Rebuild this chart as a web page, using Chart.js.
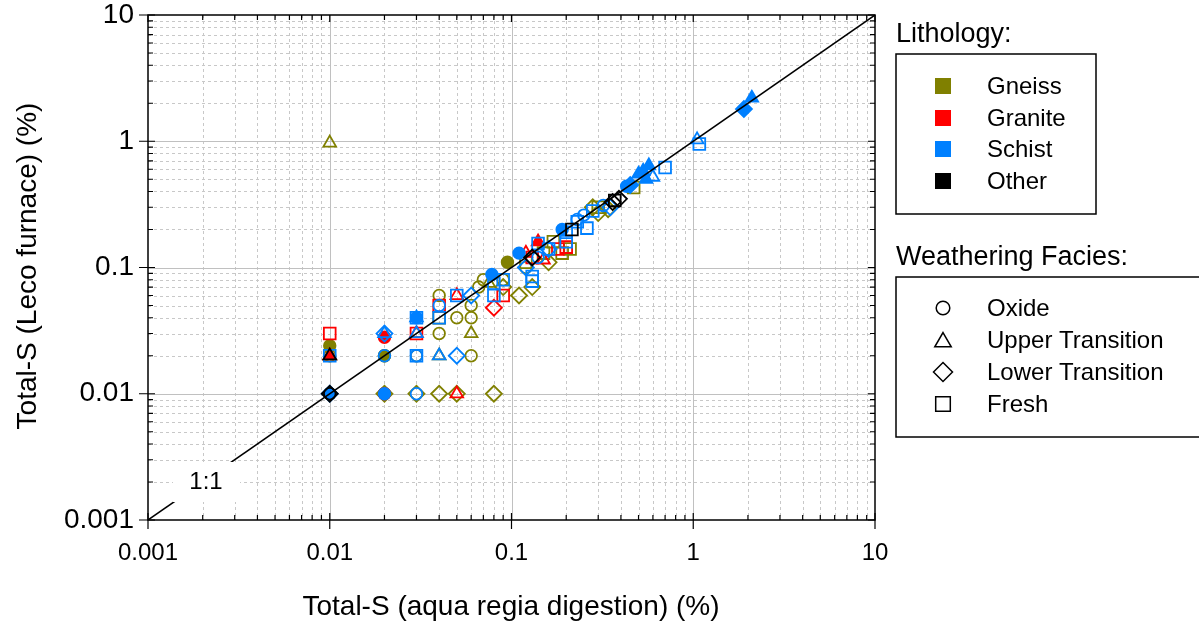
<!DOCTYPE html>
<html>
<head>
<meta charset="utf-8">
<script src="https://cdn.jsdelivr.net/npm/chart.js@4.4.0/dist/chart.umd.min.js"></script>
<style>
  html, body { margin: 0; padding: 0; background: #fff; }
  canvas { display: block; }
</style>
</head>
<body>
<canvas id="chart" width="1199" height="628"></canvas>
<script>
// Total-S: aqua regia digestion vs Leco furnace, log-log

const tickValues = [0.001, 0.01, 0.1, 1, 10];
const tickLabels = ['0.001', '0.01', '0.1', '1', '10'];
const oneToOne = [0.001, 10];

const lithologies = ['Gneiss', 'Granite', 'Schist', 'Other'];
const facies = ['Oxide', 'Upper Transition', 'Lower Transition', 'Fresh'];

// [aqua regia %, leco %]
const gneissOxide = [[0.02, 0.02], [0.03, 0.02], [0.04, 0.06], [0.04, 0.03], [0.05, 0.04], [0.06, 0.05],
  [0.06, 0.04], [0.06, 0.02], [0.07, 0.08], [0.066, 0.07], [0.01, 0.02], [0.02, 0.01], [0.12, 0.1], [0.09, 0.08]];
const gneissOxideFilled = [[0.01, 0.024], [0.02, 0.02], [0.095, 0.11]];
const gneissUpper = [[0.01, 0.97], [0.04, 0.02], [0.06, 0.03], [0.01, 0.02], [0.075, 0.075]];
const gneissLower = [[0.03, 0.01], [0.04, 0.01], [0.08, 0.01], [0.11, 0.06], [0.13, 0.07], [0.16, 0.11],
  [0.28, 0.3], [0.3, 0.27], [0.34, 0.29], [0.02, 0.01], [0.05, 0.01], [0.09, 0.07]];
const gneissFresh = [[0.04, 0.04], [0.17, 0.16], [0.21, 0.14], [0.19, 0.13], [0.47, 0.43], [0.15, 0.13],
  [0.3, 0.3], [0.12, 0.11]];

const graniteOxideFilled = [[0.02, 0.028], [0.02, 0.01]];
const graniteUpper = [[0.05, 0.06], [0.05, 0.01], [0.12, 0.13], [0.15, 0.115], [0.03, 0.03]];
const graniteUpperFilled = [[0.01, 0.02], [0.14, 0.16]];
const graniteLower = [[0.08, 0.048]];
const graniteFresh = [[0.01, 0.03], [0.03, 0.03], [0.04, 0.05], [0.09, 0.06], [0.18, 0.14], [0.2, 0.145], [0.13, 0.12]];

const schistOxide = [[0.03, 0.02], [0.03, 0.01], [0.04, 0.05], [0.02, 0.02], [0.25, 0.26], [0.23, 0.24],
  [0.14, 0.12], [0.32, 0.31]];
const schistOxideFilled = [[0.01, 0.01], [0.02, 0.01], [0.03, 0.04], [0.078, 0.088], [0.11, 0.13], [0.19, 0.2],
  [0.43, 0.44]];
const schistUpper = [[0.03, 0.03], [0.04, 0.02], [0.6, 0.52], [1.05, 1.03], [0.02, 0.03]];
const schistUpperFilled = [[0.03, 0.04], [0.5, 0.55], [0.53, 0.58], [0.57, 0.64], [2.1, 2.2], [0.55, 0.5]];
const schistLower = [[0.02, 0.03], [0.05, 0.02], [0.06, 0.06], [0.35, 0.3], [0.12, 0.1], [0.16, 0.14], [0.01, 0.01]];
const schistLowerFilled = [[1.9, 1.8], [0.45, 0.45]];
const schistFresh = [[0.01, 0.02], [0.03, 0.04], [0.03, 0.02], [0.04, 0.04], [0.05, 0.06], [0.08, 0.06],
  [0.08, 0.075], [0.09, 0.08], [0.13, 0.085], [0.13, 0.078], [0.14, 0.155], [0.2, 0.16], [0.26, 0.205],
  [0.23, 0.23], [0.28, 0.28], [0.7, 0.62], [1.08, 0.95], [0.16, 0.14], [0.2, 0.19]];

const otherOxide = [[0.01, 0.01]];
const otherUpper = [[0.01, 0.02]];
const otherLower = [[0.01, 0.01], [0.13, 0.12], [0.36, 0.33], [0.39, 0.35]];
const otherFresh = [[0.215, 0.2], [0.37, 0.34]];

const colors = {
  gneiss: '#808000',
  granite: '#ff0000',
  schist: '#0080ff',
  other: '#000000',
  grid: '#c0c0c0',
  minor: '#c8c8c8'
};
const lithColors = [colors.gneiss, colors.granite, colors.schist, colors.other];
const faciesStyles = ['circle', 'triangle', 'rectRot', 'rect'];
const radius = { circle: 5.8, triangle: 7.3, rectRot: 8, rect: 8.3 };

// first entry ends up on top
const groups = [
  [otherOxide, colors.other, 'circle', false],
  [otherUpper, colors.other, 'triangle', false],
  [otherLower, colors.other, 'rectRot', false],
  [otherFresh, colors.other, 'rect', false],
  [schistOxide, colors.schist, 'circle', false],
  [schistUpper, colors.schist, 'triangle', false],
  [schistLower, colors.schist, 'rectRot', false],
  [schistFresh, colors.schist, 'rect', false],
  [schistOxideFilled, colors.schist, 'circle', true],
  [schistUpperFilled, colors.schist, 'triangle', true],
  [schistLowerFilled, colors.schist, 'rectRot', true],
  [graniteUpper, colors.granite, 'triangle', false],
  [graniteLower, colors.granite, 'rectRot', false],
  [graniteFresh, colors.granite, 'rect', false],
  [graniteOxideFilled, colors.granite, 'circle', true],
  [graniteUpperFilled, colors.granite, 'triangle', true],
  [gneissOxide, colors.gneiss, 'circle', false],
  [gneissUpper, colors.gneiss, 'triangle', false],
  [gneissLower, colors.gneiss, 'rectRot', false],
  [gneissFresh, colors.gneiss, 'rect', false],
  [gneissOxideFilled, colors.gneiss, 'circle', true]
];

const datasets = groups.map(([pts, color, style, filled]) => ({
  type: 'scatter',
  data: pts.map(p => ({ x: p[0], y: p[1] })),
  pointStyle: style,
  pointRadius: radius[style],
  pointHoverRadius: radius[style],
  pointBorderWidth: 1.8,
  borderColor: color,
  backgroundColor: filled ? color : 'rgba(0,0,0,0)',
  order: 2
}));

datasets.push({
  type: 'line',
  data: oneToOne.map(v => ({ x: v, y: v })),
  borderColor: '#000',
  borderWidth: 1.5,
  pointRadius: 0,
  order: 0
});

const font = "'Liberation Sans', Arial, sans-serif";

function drawMarker(ctx, style, x, y, r) {
  ctx.beginPath();
  if (style === 'circle') {
    ctx.arc(x, y, r, 0, Math.PI * 2);
  } else if (style === 'triangle') {
    ctx.moveTo(x, y - r);
    ctx.lineTo(x + r * 0.866, y + r * 0.5);
    ctx.lineTo(x - r * 0.866, y + r * 0.5);
    ctx.closePath();
  } else if (style === 'rectRot') {
    ctx.moveTo(x, y - r); ctx.lineTo(x + r, y); ctx.lineTo(x, y + r); ctx.lineTo(x - r, y);
    ctx.closePath();
  } else {
    ctx.rect(x - r, y - r, 2 * r, 2 * r);
  }
  ctx.stroke();
}

const decorations = {
  id: 'decorations',
  beforeDatasetsDraw(chart) {
    const { ctx, chartArea: a, scales: { x, y } } = chart;
    ctx.save();
    ctx.lineWidth = 1;
    // minor dotted grid
    ctx.strokeStyle = colors.minor;
    ctx.setLineDash([3, 3]);
    for (let d = 0; d < 4; d++) {
      for (let m = 2; m <= 9; m++) {
        const v = tickValues[d] * m;
        const px = Math.round(x.getPixelForValue(v)) + 0.5;
        const py = Math.round(y.getPixelForValue(v)) + 0.5;
        ctx.beginPath(); ctx.moveTo(px, a.top); ctx.lineTo(px, a.bottom); ctx.stroke();
        ctx.beginPath(); ctx.moveTo(a.left, py); ctx.lineTo(a.right, py); ctx.stroke();
      }
    }
    ctx.setLineDash([]);
    ctx.strokeStyle = colors.grid;
    tickValues.slice(1, -1).forEach(v => {
      const px = Math.round(x.getPixelForValue(v)) + 0.5;
      const py = Math.round(y.getPixelForValue(v)) + 0.5;
      ctx.beginPath(); ctx.moveTo(px, a.top); ctx.lineTo(px, a.bottom); ctx.stroke();
      ctx.beginPath(); ctx.moveTo(a.left, py); ctx.lineTo(a.right, py); ctx.stroke();
    });
    ctx.restore();
  },
  afterDatasetsDraw(chart) {
    const { ctx, chartArea: a, scales: { x, y } } = chart;
    ctx.save();
    // 1:1 label
    ctx.fillStyle = '#fff';
    ctx.fillRect(173, 462, 67, 40);
    ctx.fillStyle = '#000';
    ctx.font = '24px ' + font;
    ctx.textAlign = 'center';
    ctx.textBaseline = 'middle';
    ctx.fillText('1:1', 206, 482);

    // frame and ticks
    ctx.strokeStyle = '#000';
    ctx.lineWidth = 1.5;
    ctx.strokeRect(a.left, a.top, a.right - a.left, a.bottom - a.top);
    ctx.lineWidth = 1.2;
    for (let d = 0; d < 5; d++) {
      for (let m = 1; m <= 9; m++) {
        if (d === 4 && m > 1) break;
        const v = tickValues[d] * m;
        const major = m === 1;
        const px = x.getPixelForValue(v);
        const py = y.getPixelForValue(v);
        const inL = major ? 7 : 5;
        const outL = major ? 9 : 0;
        ctx.beginPath();
        ctx.moveTo(px, a.bottom + outL); ctx.lineTo(px, a.bottom - inL);
        ctx.moveTo(px, a.top); ctx.lineTo(px, a.top + inL);
        ctx.moveTo(a.left - outL, py); ctx.lineTo(a.left + inL, py);
        ctx.moveTo(a.right, py); ctx.lineTo(a.right - inL, py);
        ctx.stroke();
      }
    }
    ctx.restore();
  },
  afterDraw(chart) {
    const { ctx } = chart;
    ctx.save();
    ctx.fillStyle = '#000';
    ctx.strokeStyle = '#000';
    // axis titles
    ctx.font = '28px ' + font;
    ctx.textAlign = 'center';
    ctx.textBaseline = 'middle';
    ctx.fillText('Total-S (aqua regia digestion) (%)', 511, 607);
    ctx.save();
    ctx.translate(28, 266);
    ctx.rotate(-Math.PI / 2);
    ctx.fillText('Total-S (Leco furnace) (%)', 0, 0);
    ctx.restore();

    // lithology legend
    ctx.textAlign = 'left';
    ctx.textBaseline = 'alphabetic';
    ctx.font = '27px ' + font;
    ctx.fillText('Lithology:', 896, 42);
    ctx.lineWidth = 1.5;
    ctx.strokeRect(896, 54, 200, 160);
    const lithRows = [86, 118, 149, 181];
    ctx.font = '24px ' + font;
    ctx.textBaseline = 'middle';
    lithologies.forEach((name, i) => {
      ctx.fillStyle = lithColors[i];
      ctx.fillRect(935, lithRows[i] - 8, 16, 16);
      ctx.fillStyle = '#000';
      ctx.fillText(name, 987, lithRows[i] + 1);
    });

    // facies legend
    ctx.textBaseline = 'alphabetic';
    ctx.font = '27px ' + font;
    ctx.fillText('Weathering Facies:', 896, 265);
    ctx.strokeRect(896, 277, 330, 160);
    const facRows = [308, 340, 372, 404];
    const legR = { circle: 6.8, triangle: 9.5, rectRot: 9.5, rect: 7.3 };
    ctx.font = '24px ' + font;
    ctx.textBaseline = 'middle';
    facies.forEach((name, i) => {
      const st = faciesStyles[i];
      drawMarker(ctx, st, 943, facRows[i] + (st === 'triangle' ? 2 : 0), legR[st]);
      ctx.fillText(name, 987, facRows[i] + 1);
    });
    ctx.restore();
  }
};

const logAxis = (pad, size) => ({
  type: 'logarithmic',
  min: 0.001,
  max: 10,
  grid: { display: false, drawTicks: false },
  border: { display: false },
  afterBuildTicks: s => { s.ticks = tickValues.map(v => ({ value: v, major: true })); },
  ticks: {
    autoSkip: false,
    maxRotation: 0,
    padding: pad,
    color: '#000',
    font: { size: size, family: font },
    callback: (v, i) => tickLabels[i]
  }
});

const xAxis = logAxis(19, 24);
xAxis.afterFit = s => { s.height = 108; s.paddingLeft = 0; s.paddingRight = 0; };
const yAxis = logAxis(14, 28);
yAxis.afterFit = s => { s.width = 148; s.paddingTop = 0; s.paddingBottom = 0; };

new Chart(document.getElementById('chart'), {
  data: { datasets: datasets },
  options: {
    responsive: false,
    animation: false,
    devicePixelRatio: 1,
    events: [],
    layout: { padding: { left: 0, top: 15, right: 324, bottom: 0 } },
    plugins: { legend: { display: false }, tooltip: { enabled: false } },
    scales: { x: xAxis, y: yAxis }
  },
  plugins: [decorations]
});
</script>
</body>
</html>
